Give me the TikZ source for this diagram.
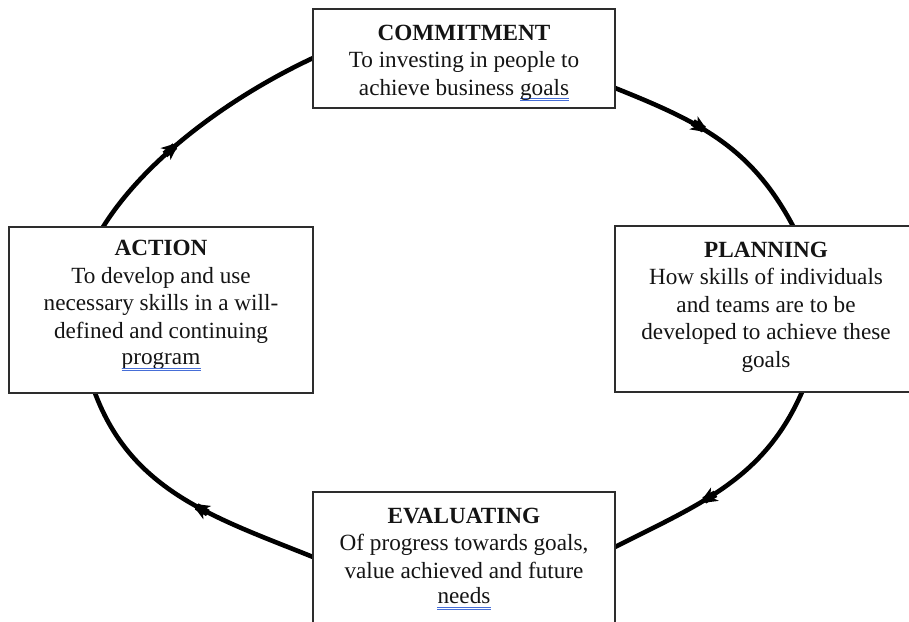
\documentclass[tikz,border=0pt]{standalone}
\usepackage{fontspec}
\setmainfont{Liberation Serif}
\usetikzlibrary{arrows.meta,decorations.markings,calc}

\definecolor{gramblue}{RGB}{70,110,215}
\definecolor{framegray}{RGB}{45,45,45}

% word with a double blue proofing underline (inside a line of text)
\newlength\gramwd
\newcommand\gramword[1]{\settowidth{\gramwd}{#1}%
  \rlap{{\color{gramblue}\rule[-4.0pt]{\gramwd}{0.9pt}}}%
  \rlap{{\color{gramblue}\rule[-6.2pt]{\gramwd}{0.9pt}}}#1}

\tikzset{
  stagebox/.style={draw=framegray, line width=1.8pt, fill=white, rectangle,
    inner sep=0pt, outer sep=0pt, minimum width=302pt, anchor=north west},
  stagetext/.style={anchor=north, inner sep=0pt, align=center,
    font=\fontsize{23.2}{27.5}\selectfont, text=black!92},
  gramline/.style={draw=gramblue, line width=0.9pt},
  cyclearc/.style={line width=4.6pt, black},
  midarrow/.style={decoration={markings,
      mark=at position #1 with {%
        \fill (-19pt,-3.6pt) rectangle (-6pt,3.6pt);
        \arrow{Stealth[length=18pt,width=15pt,inset=5pt]}}},
    postaction={decorate}},
}

\begin{document}
\begin{tikzpicture}[x=1pt,y=-1pt]
\useasboundingbox (0,0) rectangle (909,621);
\clip (0,0) rectangle (909,621);
\fill[white] (0,0) rectangle (909,621);

% the four stage boxes
\node[stagebox, minimum height=99pt]  (commit) at (313,9)   {};
\node[stagebox, minimum height=166pt] (plan)   at (615,226) {};
\node[stagebox, minimum height=166pt] (eval)   at (313,492) {};
\node[stagebox, minimum width=304pt, minimum height=166pt] (action) at (9,227) {};

% cycle arcs between the boxes
\draw[cyclearc, midarrow=0.45]
  ($(commit.north east)+(0,79)$) .. controls +(85,34) and +(-42,-79) .. ($(plan.north west)+(178,0)$);
\draw[cyclearc, midarrow=0.62]
  ($(plan.south west)+(187,0)$) .. controls +(-38,87) and +(85,-43) .. ($(eval.north east)+(0,55)$);
\draw[cyclearc, midarrow=0.47]
  ($(eval.north west)+(0,65)$) .. controls +(-97,-39) and +(37,99) .. ($(action.south west)+(86,0)$);
\draw[cyclearc, midarrow=0.42]
  ($(action.north west)+(94,0)$) .. controls +(45,-72) and +(-77,36) .. ($(commit.north west)+(0,49)$);

% redraw box frames over the arc ends
\node[stagebox, minimum height=99pt]  at (313,9)   {};
\node[stagebox, minimum height=166pt] at (615,226) {};
\node[stagebox, minimum height=166pt] at (313,492) {};
\node[stagebox, minimum width=304pt, minimum height=166pt] at (9,227) {};

% box texts
\node[stagetext] (committxt) at ($(commit.north)+(0,15.5)$)
  {\textbf{COMMITMENT}\\To investing in people to\\achieve business \gramword{goals}};
\node[stagetext] (plantxt) at ($(plan.north)+(0,15.5)$)
  {\textbf{PLANNING}\\How skills of individuals\\and teams are to be\\developed to achieve these\\goals};
\node[stagetext] (actiontxt) at ($(action.north)+(0,13)$)
  {\textbf{ACTION}\\To develop and use\\necessary skills in a will-\\defined and continuing};
\node[stagetext, anchor=base] (actionword) at ($(action.north)+(0,137)$) {program};
\node[stagetext] (evaltxt) at ($(eval.north)+(0,15.5)$)
  {\textbf{EVALUATING}\\Of progress towards goals,\\value achieved and future};
\node[stagetext, anchor=base] (evalword) at ($(eval.north)+(0,111)$) {needs};

% proofing underlines below the last words
\draw[gramline] ($(actionword.base west)+(0,4.4)$) -- ($(actionword.base east)+(0,4.4)$);
\draw[gramline] ($(actionword.base west)+(0,6.6)$) -- ($(actionword.base east)+(0,6.6)$);
\draw[gramline] ($(evalword.base west)+(0,4.4)$) -- ($(evalword.base east)+(0,4.4)$);
\draw[gramline] ($(evalword.base west)+(0,6.6)$) -- ($(evalword.base east)+(0,6.6)$);
\end{tikzpicture}
\end{document}
